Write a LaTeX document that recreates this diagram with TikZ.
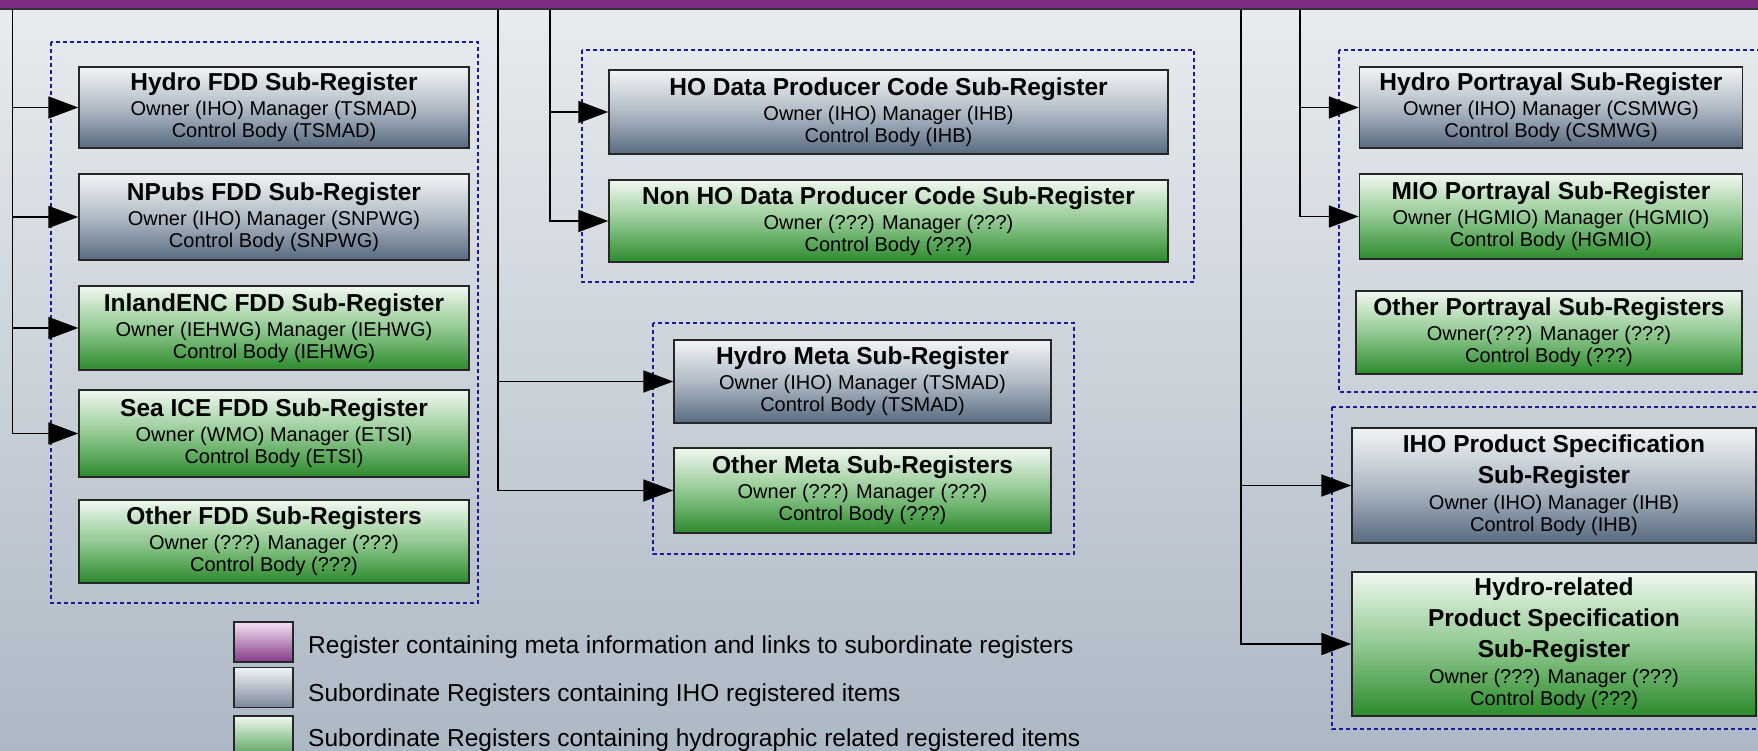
\documentclass[tikz,border=0pt]{standalone}
\usepackage{fontspec}
\setmainfont{Liberation Sans}
\usepackage{tikz}
\usetikzlibrary{arrows.meta}

\definecolor{bgtop}{HTML}{E9ECEF}
\definecolor{bgbot}{HTML}{ACB8C5}
\definecolor{regpurple}{HTML}{7E2B82}
\definecolor{ihotop}{HTML}{F2F4F6}
\definecolor{ihomid}{HTML}{B0BBC6}
\definecolor{ihobot}{HTML}{586A80}
\definecolor{hydtop}{HTML}{F0F8F0}
\definecolor{hydmid}{HTML}{92C992}
\definecolor{hydbot}{HTML}{2C8A2C}
\definecolor{legtop}{HTML}{F3E2F3}
\definecolor{legbot}{HTML}{843A88}
\definecolor{grpblue}{HTML}{1A1A9C}

\newcommand{\regtitle}[1]{{\fontsize{24.5}{29}\selectfont\bfseries #1}}

\tikzset{
  regbox/.style={draw=black!85, line width=1.5pt, align=center, inner sep=0pt,
    font=\fontsize{20}{22}\selectfont},
  ihobox/.style={regbox, top color=ihotop, bottom color=ihobot, middle color=ihomid},
  hydbox/.style={regbox, top color=hydtop, bottom color=hydbot, middle color=hydmid},
  regbar/.style={draw=black!80, line width=1.5pt, fill=regpurple},
  group/.style={draw=grpblue, line width=1.5pt, dash pattern=on 4pt off 3pt},
  link/.style={line width=1.8pt, -{Triangle[length=30pt,width=22pt]}},
  swatch/.style={draw=black!85, line width=1.8pt, minimum width=59pt, minimum height=40pt, inner sep=0pt},
  legtext/.style={anchor=base west, inner sep=0pt, font=\fontsize{24.5}{29}\selectfont}
}

\begin{document}
\begin{tikzpicture}[x=1pt,y=-1pt]
  \useasboundingbox (0,0) rectangle (1758,751);
  \clip (0,0) rectangle (1758,751);
  % background
  \shade[top color=bgtop, bottom color=bgbot] (0,0) rectangle (1758,751);

  % the register above
  \node[regbar, minimum width=1800pt, minimum height=70pt] (reg) at (879,-26) {};

  % trunk lines
  \coordinate (tfdd) at (12.5,0);
  \coordinate (tmeta) at (498,0);
  \coordinate (tcode) at (550,0);
  \coordinate (tspec) at (1241,0);
  \coordinate (tport) at (1300,0);

  % dotted groups
  \draw[group] (51,42) rectangle (478,603);
  \draw[group] (582,50) rectangle (1194,282);
  \draw[group] (653,323) rectangle (1074,554);
  \draw[group] (1339,50) rectangle (1775,392);
  \draw[group] (1332,407) rectangle (1775,729);

  % FDD sub-registers
  \node[ihobox, minimum width=390pt, minimum height=81pt] (hfdd) at (274,107.5)
    {\regtitle{Hydro FDD Sub-Register}\\[3pt]Owner (IHO) Manager (TSMAD)\\Control Body (TSMAD)};
  \node[ihobox, minimum width=390pt, minimum height=86pt] (npfdd) at (274,217)
    {\regtitle{NPubs FDD Sub-Register}\\[3pt]Owner (IHO) Manager (SNPWG)\\Control Body (SNPWG)};
  \node[hydbox, minimum width=390pt, minimum height=84pt] (ienc) at (274,328)
    {\regtitle{InlandENC FDD Sub-Register}\\[3pt]Owner (IEHWG) Manager (IEHWG)\\Control Body (IEHWG)};
  \node[hydbox, minimum width=390pt, minimum height=87pt] (seaice) at (274,433.5)
    {\regtitle{Sea ICE FDD Sub-Register}\\[3pt]Owner (WMO) Manager (ETSI)\\Control Body (ETSI)};
  \node[hydbox, minimum width=390pt, minimum height=83pt] (ofdd) at (274,541.5)
    {\regtitle{Other FDD Sub-Registers}\\[3pt]Owner (???) Manager (???)\\Control Body (???)};

  % producer code sub-registers
  \node[ihobox, minimum width=559pt, minimum height=84pt] (hocode) at (888.5,112)
    {\regtitle{HO Data Producer Code Sub-Register}\\[3pt]Owner (IHO) Manager (IHB)\\Control Body (IHB)};
  \node[hydbox, minimum width=559pt, minimum height=82pt] (nhocode) at (888.5,221)
    {\regtitle{Non HO Data Producer Code Sub-Register}\\[3pt]Owner (???) Manager (???)\\Control Body (???)};

  % meta sub-registers
  \node[ihobox, minimum width=377pt, minimum height=83pt] (hmeta) at (862.5,381.5)
    {\regtitle{Hydro Meta Sub-Register}\\[3pt]Owner (IHO) Manager (TSMAD)\\Control Body (TSMAD)};
  \node[hydbox, minimum width=377pt, minimum height=85pt] (ometa) at (862.5,490.5)
    {\regtitle{Other Meta Sub-Registers}\\[3pt]Owner (???) Manager (???)\\Control Body (???)};

  % portrayal sub-registers
  \node[ihobox, minimum width=383pt, minimum height=81pt] (hport) at (1551,107.5)
    {\regtitle{Hydro Portrayal Sub-Register}\\[3pt]Owner (IHO) Manager (CSMWG)\\Control Body (CSMWG)};
  \node[hydbox, minimum width=383pt, minimum height=85pt] (mport) at (1551,216.5)
    {\regtitle{MIO Portrayal Sub-Register}\\[3pt]Owner (HGMIO) Manager (HGMIO)\\Control Body (HGMIO)};
  \node[hydbox, minimum width=386pt, minimum height=83pt] (oport) at (1549,332.5)
    {\regtitle{Other Portrayal Sub-Registers}\\[3pt]Owner(???) Manager (???)\\Control Body (???)};

  % product specification sub-registers
  \node[ihobox, minimum width=404pt, minimum height=115pt] (ihops) at (1554,485.5)
    {\regtitle{IHO Product Specification}\\[7pt]\regtitle{Sub-Register}\\[4pt]Owner (IHO) Manager (IHB)\\Control Body (IHB)};
  \node[hydbox, minimum width=404pt, minimum height=144pt] (hrps) at (1554,644)
    {\regtitle{Hydro-related}\\[7pt]\regtitle{Product Specification}\\[7pt]\regtitle{Sub-Register}\\[4pt]Owner (???) Manager (???)\\Control Body (???)};

  % links
  \draw[link] (reg.south -| tfdd) |- (hfdd.west);
  \draw[link] (reg.south -| tfdd) |- (npfdd.west);
  \draw[link] (reg.south -| tfdd) |- (ienc.west);
  \draw[link] (reg.south -| tfdd) |- (seaice.west);
  \draw[link] (reg.south -| tcode) |- (hocode.west);
  \draw[link] (reg.south -| tcode) |- (nhocode.west);
  \draw[link] (reg.south -| tmeta) |- (hmeta.west);
  \draw[link] (reg.south -| tmeta) |- (ometa.west);
  \draw[link] (reg.south -| tport) |- (hport.west);
  \draw[link] (reg.south -| tport) |- (mport.west);
  \draw[link] (reg.south -| tspec) |- (ihops.west);
  \draw[link] (reg.south -| tspec) |- (hrps.west);

  % legend
  \node[swatch, top color=legtop, bottom color=legbot] (lgreg) at (263.5,642) {};
  \node[swatch, top color=ihotop, bottom color=ihobot!80] (lgiho) at (263.5,687.5) {};
  \node[swatch, top color=hydtop, bottom color=hydbot!80] (lghyd) at (263.5,736) {};
  \node[legtext] (lgregtext) at (308,653) {Register containing meta information and links to subordinate registers};
  \node[legtext] (lgihotext) at (308,701) {Subordinate Registers containing IHO registered items};
  \node[legtext] (lghydtext) at (308,746) {Subordinate Registers containing hydrographic related registered items};
\end{tikzpicture}
\end{document}
